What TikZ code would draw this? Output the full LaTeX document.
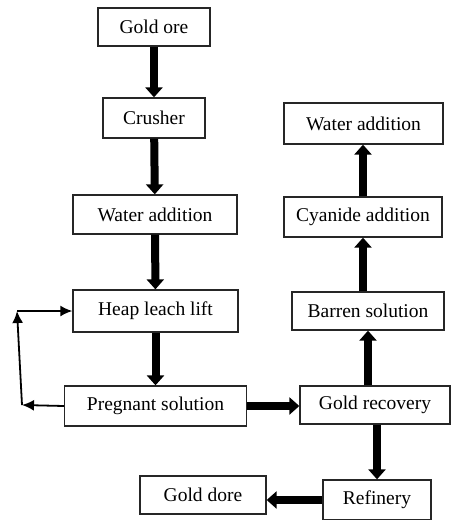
\documentclass[tikz,border=0pt]{standalone}
\usepackage{fontspec}
\setmainfont{Liberation Serif}
\usetikzlibrary{arrows.meta}
\begin{document}
\begin{tikzpicture}[x=1pt,y=-1pt,
  box/.style={draw=black!85,line width=1.3pt,inner sep=0pt,font=\fontsize{19.5}{21}\selectfont},
  big/.style={line width=8pt,-{Triangle[width=17pt,length=10pt]}},
  thin/.style={line width=1.8pt,-{Latex[width=11pt,length=12pt]}}]
\useasboundingbox (0,0) rectangle (451,520);
\node[box,minimum width=112pt,minimum height=38pt] (ore) at (154,27) {Gold ore};
\node[box,minimum width=102pt,minimum height=40pt] (crush) at (154,118) {Crusher};
\node[box,minimum width=164pt,minimum height=39pt] (wat1) at (155,214.5) {Water addition};
\node[box,minimum width=165pt,minimum height=42pt] (heap) at (155.5,311) {Heap leach lift};
\node[box,minimum width=182pt,minimum height=40pt] (preg) at (155.5,406) {Pregnant solution};
\node[box,minimum width=150pt,minimum height=38pt] (recov) at (375,405) {Gold recovery};
\node[box,minimum width=108pt,minimum height=40pt] (ref) at (377,500) {Refinery};
\node[box,minimum width=126pt,minimum height=38pt] (dore) at (203,495) {Gold dore};
\node[box,minimum width=152pt,minimum height=38pt] (barren) at (368,311) {Barren solution};
\node[box,minimum width=158pt,minimum height=40pt] (cyan) at (363,217) {Cyanide addition};
\node[box,minimum width=159pt,minimum height=41pt] (wat2) at (363.5,123.5) {Water addition};
\coordinate (c1) at (22,405);
\coordinate (c2) at (17,311);
\draw[big] (ore) -- (crush);
\draw[big] (crush) -- (wat1);
\draw[big] (wat1) -- (heap);
\draw[big] (heap) -- (preg);
\draw[big] (preg.east) -- (recov.west |- preg.east);
\draw[big] (recov.south -| ref) -- (ref.north);
\draw[big] (ref.west) -- (dore.east |- ref.west);
\draw[big] (recov.north -| barren) -- (barren.south);
\draw[big] (barren.north -| cyan) -- (cyan.south);
\draw[big] (cyan.north) -- (wat2.south -| cyan.north);
\draw[thin] (preg.west) -- (c1);
\draw[thin] (c1) -- (c2);
\draw[thin] (c2) -- (heap.west);
\end{tikzpicture}
\end{document}
